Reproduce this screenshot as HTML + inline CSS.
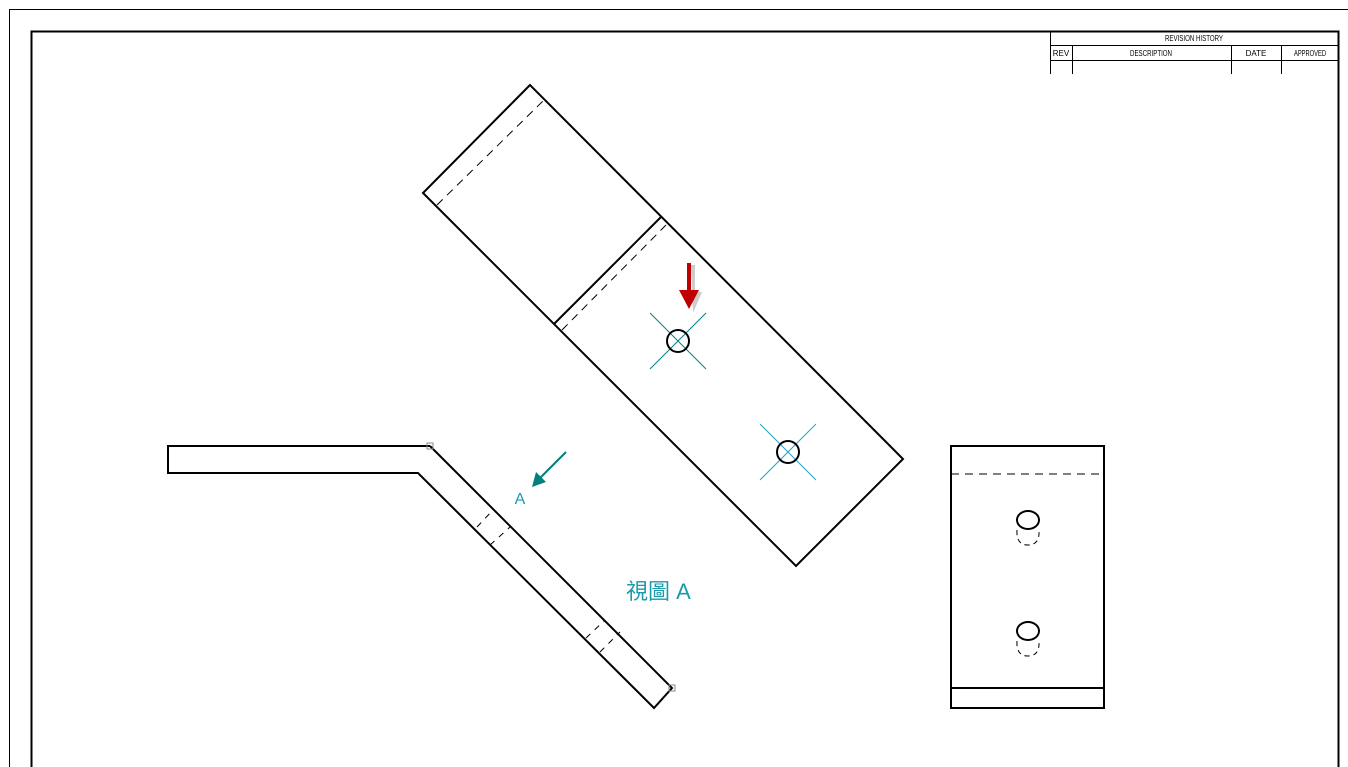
<!DOCTYPE html>
<html><head><meta charset="utf-8"><style>
html,body{margin:0;padding:0;background:#fff;width:1348px;height:767px;overflow:hidden}
svg{display:block}
</style></head><body>
<svg width="1348" height="767" viewBox="0 0 1348 767" xmlns="http://www.w3.org/2000/svg">
<polyline points="9.5,767 9.5,9.5 1348,9.5" fill="none" stroke="#000" stroke-width="1"/>
<polyline points="31.5,767 31.5,31.5 1338.5,31.5 1338.5,767" fill="none" stroke="#000" stroke-width="2"/>
<g stroke="#000" stroke-width="1" fill="none">
<line x1="1050.5" y1="31" x2="1050.5" y2="74"/>
<line x1="1050" y1="45.5" x2="1338" y2="45.5"/>
<line x1="1050" y1="60.5" x2="1338" y2="60.5"/>
<line x1="1072.5" y1="45" x2="1072.5" y2="74"/>
<line x1="1231.5" y1="45" x2="1231.5" y2="74"/>
<line x1="1281.5" y1="45" x2="1281.5" y2="74"/>
</g>
<g font-family="Liberation Sans, sans-serif" font-size="8" fill="#000" text-anchor="middle">
<text x="1194" y="41" textLength="58" lengthAdjust="spacingAndGlyphs">REVISION HISTORY</text>
<text x="1061" y="56">REV</text>
<text x="1151" y="56" textLength="42" lengthAdjust="spacingAndGlyphs">DESCRIPTION</text>
<text x="1256" y="56">DATE</text>
<text x="1310" y="56" textLength="32" lengthAdjust="spacingAndGlyphs">APPROVED</text>
</g>
<g stroke="#000" stroke-width="2" fill="none">
<polygon points="530,85 423,193 796,566 903,459"/>
<line x1="554" y1="324" x2="661" y2="217"/>
</g>
<g stroke="#000" stroke-width="1" fill="none" stroke-dasharray="8,6">
<line x1="437" y1="205" x2="543" y2="101"/>
<line x1="562" y1="330" x2="666" y2="225"/>
</g>
<g stroke="#008080" stroke-width="1">
<line x1="650" y1="313" x2="706" y2="369"/><line x1="706" y1="313" x2="650" y2="369"/>
</g>
<g stroke="#20a8c0" stroke-width="1">
<line x1="760" y1="424" x2="816" y2="480"/><line x1="816" y1="424" x2="760" y2="480"/>
</g>
<circle cx="678" cy="341" r="11" fill="none" stroke="#000" stroke-width="2"/>
<circle cx="788" cy="452" r="11" fill="none" stroke="#000" stroke-width="2"/>
<polygon points="691,265 695,265 695,292 702,292 693,313" fill="#999" opacity="0.5"/>
<rect x="687" y="263" width="4" height="28" fill="#c00000"/>
<polygon points="679,290 699,290 689,309" fill="#c00000"/>
<g stroke="#000" stroke-width="2" fill="none">
<polyline points="430,446 168,446 168,473 418,473 654,708 672,688 430,446"/>
</g>
<g stroke="#000" stroke-width="1" fill="none" stroke-dasharray="6,6">
<line x1="477" y1="527" x2="493" y2="510"/>
<line x1="490" y1="545" x2="510" y2="527"/>
<line x1="586" y1="638" x2="605" y2="620"/>
<line x1="600" y1="652" x2="620" y2="632"/>
</g>
<rect x="427" y="443" width="6" height="6" fill="none" stroke="#888" stroke-width="1"/>
<rect x="669" y="685" width="6" height="6" fill="none" stroke="#888" stroke-width="1"/>
<line x1="566" y1="452" x2="540" y2="478" stroke="#008080" stroke-width="2"/>
<polygon points="532,487 536,472 546,482" fill="#008080"/>
<text x="520" y="504" font-family="Liberation Sans, sans-serif" font-size="16" fill="#1a9aaa" text-anchor="middle">A</text>
<text x="626" y="599" font-family="Liberation Sans, 'Noto Sans CJK TC', sans-serif" font-size="22" fill="#1a9aaa">視圖 A</text>
<g stroke="#000" stroke-width="2" fill="none">
<rect x="951" y="446" width="153" height="262"/>
<line x1="951" y1="688" x2="1104" y2="688"/>
<ellipse cx="1028" cy="520" rx="11" ry="9"/>
<ellipse cx="1028" cy="631" rx="11" ry="9"/>
</g>
<line x1="951" y1="474" x2="1104" y2="474" stroke="#000" stroke-width="1" stroke-dasharray="8,6"/>
<g stroke="#000" stroke-width="1" fill="none" stroke-dasharray="5,4">
<path d="M1017,530 Q1016,545 1028,545 Q1040,545 1039,530"/>
<path d="M1017,641 Q1016,656 1028,656 Q1040,656 1039,641"/>
</g>
</svg>
</body></html>
